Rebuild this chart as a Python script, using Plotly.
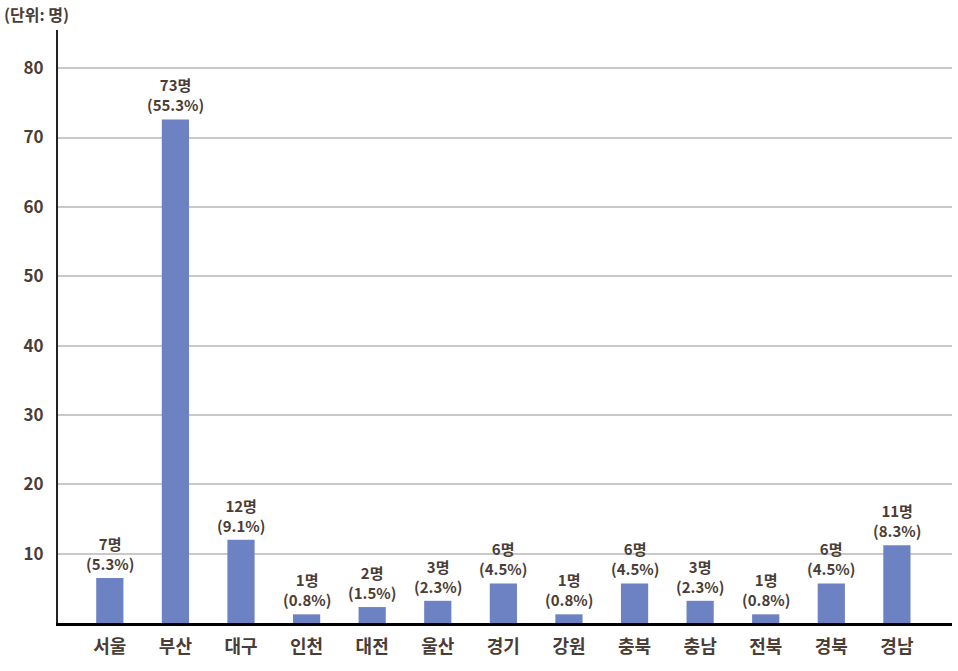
import plotly.graph_objects as go

regions = ["서울", "부산", "대구", "인천", "대전", "울산", "경기", "강원", "충북", "충남", "전북", "경북", "경남"]
counts = [7, 73, 12, 1, 2, 3, 6, 1, 6, 3, 1, 6, 11]
percents = ["5.3", "55.3", "9.1", "0.8", "1.5", "2.3", "4.5", "0.8", "4.5", "2.3", "0.8", "4.5", "8.3"]
# bar heights as drawn in the reference
heights = [6.5, 72.6, 12.0, 1.25, 2.3, 3.2, 5.7, 1.25, 5.7, 3.2, 1.25, 5.7, 11.2]
yticks = [10, 20, 30, 40, 50, 60, 70, 80]

TXT = "#4a3d36"
FONT = "Noto Sans CJK KR"

xs = list(range(len(regions)))

fig = go.Figure(go.Bar(
    x=xs, y=heights,
    marker=dict(color="#6d82c2", line=dict(width=0)),
    width=0.415,
    hoverinfo="skip",
))

annotations = [dict(
    x=x, y=h, xref="x", yref="y",
    text=f"<b>{c}명<br>({p}%)</b>",
    xanchor="center", yanchor="bottom", yshift=2,
    showarrow=False, align="center",
    font=dict(family=FONT, size=15, color=TXT),
) for x, h, c, p in zip(xs, heights, counts, percents)]

annotations.append(dict(
    text="<b>(단위: 명)</b>", xref="paper", yref="paper",
    x=-56/894, y=1 + 16/593, xanchor="left", yanchor="middle",
    showarrow=False, font=dict(family=FONT, size=16, color=TXT),
))

fig.update_layout(
    width=958, height=671,
    margin=dict(l=58, r=6, t=30, b=48),
    paper_bgcolor="white", plot_bgcolor="white",
    showlegend=False,
    font=dict(family=FONT, color=TXT),
    xaxis=dict(
        range=[-0.79, 12.84],
        tickmode="array", tickvals=xs,
        ticktext=[f"<b>{r}</b>" for r in regions],
        tickfont=dict(family=FONT, size=18, color=TXT),
        showgrid=False, zeroline=False,
        showline=True, linecolor="black", linewidth=3,
        ticks="", ticklabelstandoff=5,
    ),
    yaxis=dict(
        range=[0, 85.5],
        tickmode="array", tickvals=yticks,
        ticktext=[f"<b>{t}</b>" for t in yticks],
        tickfont=dict(family=FONT, size=17, color=TXT),
        showgrid=True, gridcolor="#c9c9c9", gridwidth=2,
        zeroline=False,
        showline=True, linecolor="#222222", linewidth=2,
        ticks="", ticklabelstandoff=9,
    ),
    annotations=annotations,
)

fig.write_html("out.html")
